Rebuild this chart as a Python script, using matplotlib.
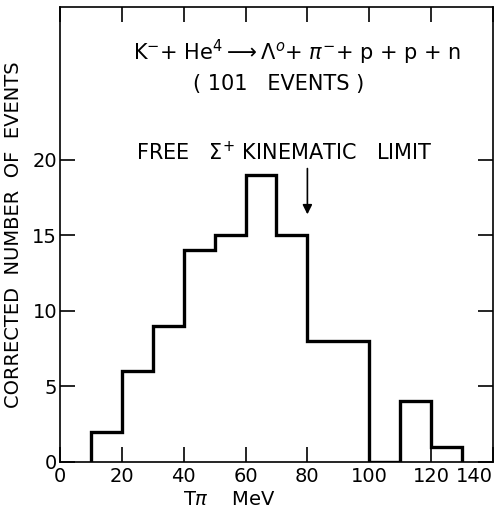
import numpy as np
import matplotlib
matplotlib.use("Agg")
import matplotlib.pyplot as plt

# histogram of pion kinetic energy
edges = [10, 20, 30, 40, 50, 60, 70, 80, 90, 100, 110, 120, 130]
counts = [2, 6, 9, 14, 15, 19, 15, 8, 8, 0, 4, 1]
xticks = [0, 20, 40, 60, 80, 100, 120, 140]
yticks = [0, 5, 10, 15, 20]
limit_x = 80

plt.rcParams['font.family'] = 'DejaVu Sans'
fig = plt.figure(figsize=(4.95, 5.12), dpi=100)
ax = fig.add_axes([0.121, 0.098, 0.875, 0.888])

ax.stairs(counts, edges, color="black", linewidth=2.4, baseline=0)

ax.set_xlim(0, 140)
ax.set_ylim(0, 30.1)
ax.set_xticks(xticks)
ax.set_yticks(yticks)
ax.tick_params(direction="in", length=11, width=1.2, top=True, right=True,
               labelsize=14)
ax.tick_params(axis="y", pad=2)
ax.tick_params(axis="x", pad=4)
ax.get_xticklabels()[-1].set_ha("right")
for s in ax.spines.values():
    s.set_linewidth(1.2)

ax.set_xlabel(r"T$\pi$    MeV", fontsize=14)
ax.xaxis.set_label_coords(0.39, -0.083)
ax.xaxis.label.set_va("center")
ax.set_ylabel("CORRECTED  NUMBER  OF  EVENTS", fontsize=14)
ax.yaxis.set_label_coords(-0.085, 0.5)

ax.text(76.6, 27.1, r"K$^{-}$+ He$^{4}$$\longrightarrow$$\Lambda^{o}$+ $\pi^{-}$+ p + p + n",
        ha="center", va="center", fontsize=15)
ax.text(70.8, 25.0, "( 101   EVENTS )", ha="center", va="center", fontsize=15)
ax.text(72.7, 20.5, r"FREE   $\Sigma^{+}$ KINEMATIC   LIMIT", ha="center", va="center",
        fontsize=15)
ax.annotate("", xy=(limit_x, 16.2), xytext=(limit_x, 19.6),
            arrowprops=dict(arrowstyle="-|>", color="black", lw=1.2,
                            mutation_scale=14))

fig.savefig("out.png", dpi=100)
